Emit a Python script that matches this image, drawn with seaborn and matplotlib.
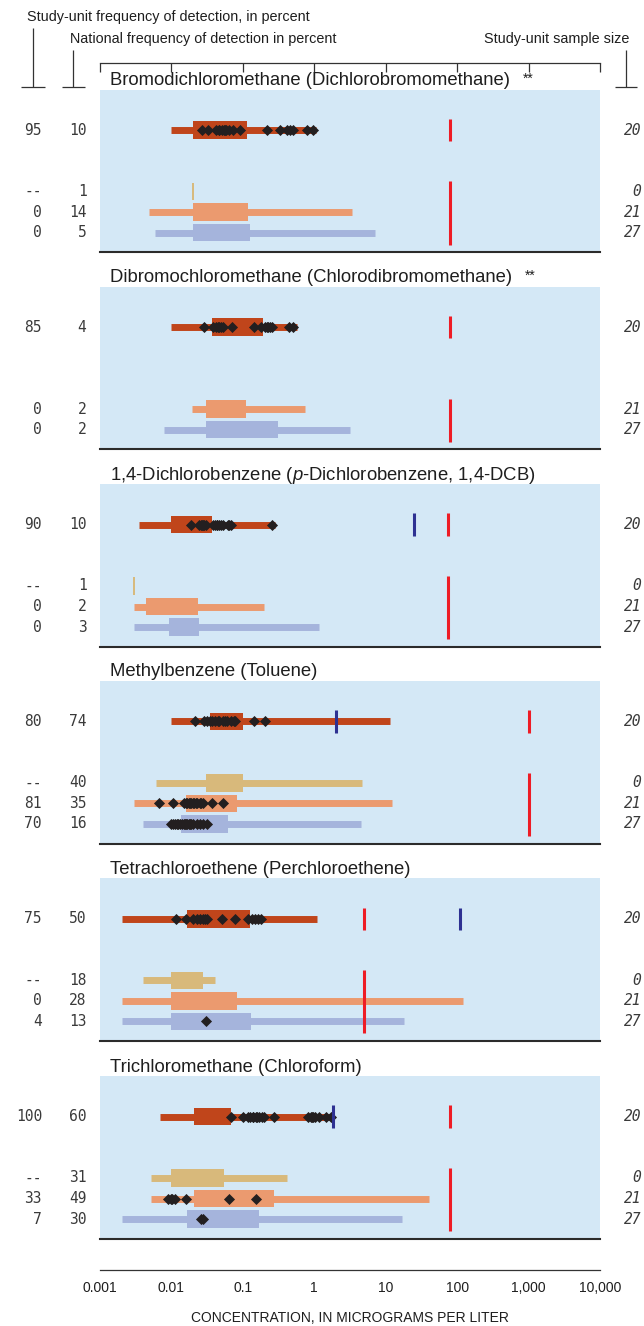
import matplotlib
matplotlib.use("Agg")
import matplotlib.pyplot as plt
from matplotlib.ticker import NullLocator, FixedLocator, FixedFormatter
from matplotlib.transforms import blended_transform_factory
import numpy as np
import pandas as pd
import seaborn as sns

# ---------------------------------------------------------------- data
compounds = [
    "Bromodichloromethane (Dichlorobromomethane)",
    "Dibromochloromethane (Chlorodibromomethane)",
    "1,4-Dichlorobenzene ($\\it{p}$-Dichlorobenzene, 1,4-DCB)",
    "Methylbenzene (Toluene)",
    "Tetrachloroethene (Perchloroethene)",
    "Trichloromethane (Chloroform)",
]
flags = ["**", "**", "", "", "", ""]

# (whisker low, box low, box high, whisker high), micrograms per liter
study_stats = [
    (0.01, 0.02, 0.114, 1.05),
    (0.01, 0.0375, 0.19, 0.57),
    (0.0035, 0.01, 0.0375, 0.28),
    (0.01, 0.0346, 0.102, 11.3),
    (0.002, 0.0163, 0.124, 1.09),
    (0.0069, 0.0204, 0.0678, 1.8),
]
tan_stats = [
    (0.02, 0.02, 0.02, 0.02),
    None,
    (0.003, 0.003, 0.003, 0.003),
    (0.0061, 0.0305, 0.102, 4.7),
    (0.004, 0.01, 0.0281, 0.041),
    (0.0051, 0.01, 0.054, 0.42),
]
salmon_stats = [
    (0.0049, 0.02, 0.119, 3.4),
    (0.0195, 0.03, 0.111, 0.73),
    (0.003, 0.0044, 0.0232, 0.2),
    (0.003, 0.0158, 0.083, 12.4),
    (0.002, 0.01, 0.0815, 120),
    (0.0051, 0.0204, 0.27, 41),
]
blue_stats = [
    (0.0059, 0.02, 0.127, 7.0),
    (0.0078, 0.03, 0.31, 3.2),
    (0.003, 0.0091, 0.0245, 1.16),
    (0.004, 0.0138, 0.0625, 4.55),
    (0.002, 0.01, 0.131, 18),
    (0.002, 0.0163, 0.171, 17),
]

# individual detections
study_detections = [
    [0.027, 0.033, 0.042, 0.047, 0.047, 0.051, 0.054, 0.056, 0.059, 0.065,
     0.073, 0.091, 0.218, 0.33, 0.41, 0.45, 0.50, 0.78, 0.95],
    [0.0285, 0.0388, 0.042, 0.045, 0.047, 0.050, 0.0535, 0.071, 0.141, 0.177,
     0.203, 0.216, 0.228, 0.241, 0.256, 0.443, 0.497],
    [0.0185, 0.0245, 0.026, 0.027, 0.0275, 0.029, 0.03, 0.0388, 0.041, 0.0435,
     0.044, 0.046, 0.0488, 0.052, 0.0614, 0.0649, 0.0687, 0.256],
    [0.0216, 0.0288, 0.0315, 0.0346, 0.0373, 0.0405, 0.045, 0.047, 0.0527,
     0.057, 0.06, 0.0684, 0.0741, 0.0785, 0.142, 0.207],
    [0.0115, 0.016, 0.0202, 0.0226, 0.0251, 0.0279, 0.0295, 0.0312, 0.0506,
     0.0776, 0.119, 0.133, 0.148, 0.164, 0.178],
    [0.0678, 0.101, 0.117, 0.127, 0.139, 0.14, 0.153, 0.16, 0.171, 0.185,
     0.196, 0.277, 0.818, 0.887, 0.92, 0.95, 1.03, 1.15, 1.45, 1.72],
]
salmon_detections = [
    [], [], [],
    [0.0067, 0.0106, 0.015, 0.016, 0.0163, 0.0178, 0.018, 0.019, 0.0199, 0.021,
     0.0224, 0.023, 0.025, 0.026, 0.0281, 0.0373, 0.0527],
    [],
    [0.009, 0.0098, 0.0103, 0.0112, 0.0158, 0.0649, 0.153],
]
blue_detections = [
    [], [], [],
    [0.0098, 0.0105, 0.0112, 0.0118, 0.0125, 0.0132, 0.0139, 0.0148, 0.0155,
     0.016, 0.0167, 0.0175, 0.0182, 0.019, 0.0202, 0.0226, 0.0251, 0.0279, 0.0312],
    [0.03],
    [0.0256, 0.0281],
]

# drinking-water benchmarks
red_benchmark = [80, 80, 75, 1000, 5, 80]
blue_benchmark = [None, None, 25, 2, 110, 1.8]

# frequency-of-detection labels (study-unit, national)
study_row_freq = [("95", "10"), ("85", "4"), ("90", "10"), ("80", "74"), ("75", "50"), ("100", "60")]
tan_row_freq = [("--", "1"), None, ("--", "1"), ("--", "40"), ("--", "18"), ("--", "31")]
salmon_row_freq = [("0", "14"), ("0", "2"), ("0", "2"), ("81", "35"), ("0", "28"), ("33", "49")]
blue_row_freq = [("0", "5"), ("0", "2"), ("0", "3"), ("70", "16"), ("4", "13"), ("7", "30")]
sample_sizes = ["20", "0", "21", "27"]

tick_values = [0.001, 0.01, 0.1, 1, 10, 100, 1000, 10000]
tick_labels = ["0.001", "0.01", "0.1", "1", "10", "100", "1,000", "10,000"]

# ---------------------------------------------------------------- style
sns.set_theme(style="white")
plt.rcParams["font.family"] = ["Liberation Sans", "DejaVu Sans"]
plt.rcParams["mathtext.fontset"] = "custom"
plt.rcParams["mathtext.rm"] = "Liberation Sans"
plt.rcParams["mathtext.it"] = "Liberation Sans:italic"

BG = "#d4e8f6"
C_STUDY = "#c0451b"
C_TAN = "#d8b97b"
C_SALMON = "#eb9a6f"
C_BLUE = "#a5b4dc"
C_RED = "#ee1c25"
C_NAVY = "#2e3192"
C_DOT = "#231f20"
C_TEXT = "#1e1e1e"
C_NUM = "#3a3a3a"

W, H = 644, 1326
fig = plt.figure(figsize=(W / 100, H / 100), dpi=100)


def rect(x0, y0, x1, y1):
    return [x0 / W, 1 - y1 / H, (x1 - x0) / W, (y1 - y0) / H]


overlay = fig.add_axes([0, 0, 1, 1])
overlay.set_xlim(0, W)
overlay.set_ylim(H, 0)
overlay.axis("off")

# column headers and brackets
hdr = dict(fontsize=10.4, color=C_TEXT, va="center", transform=overlay.transData)
fig.text(27, 17, "Study-unit frequency of detection, in percent", ha="left", **hdr)
fig.text(70, 39, "National frequency of detection in percent", ha="left", **hdr)
fig.text(629, 39, "Study-unit sample size", ha="right", **hdr)
for xv, ytop, x0, x1 in [(33, 28, 21, 45), (73.5, 50, 62, 85), (626, 50, 615, 637)]:
    overlay.plot([xv, xv], [ytop, 87], color="#333333", lw=0.9, solid_capstyle="butt")
    overlay.plot([x0, x1], [87, 87], color="#333333", lw=0.9, solid_capstyle="butt")

# top scale bar
top_ax = fig.add_axes(rect(100, 63, 600, 72))
top_ax.set_xscale("log")
top_ax.set_xlim(1e-3, 1e4)
top_ax.patch.set_visible(False)
for s in ["bottom", "left", "right"]:
    top_ax.spines[s].set_visible(False)
top_ax.spines["top"].set_color("#333333")
top_ax.spines["top"].set_linewidth(0.9)
top_ax.xaxis.set_major_locator(FixedLocator(tick_values))
top_ax.xaxis.set_minor_locator(NullLocator())
top_ax.xaxis.set_ticks_position("top")
top_ax.tick_params(axis="x", direction="in", length=6.5, width=0.9, color="#333333",
                   labeltop=False, labelbottom=False)
top_ax.set_yticks([])

PANEL_TOPS = [89.7, 286.7, 484, 681, 878.3, 1076]
PANEL_H = 162.5
ROW_PX = 20.5
STUDY_OFF = 40.5
ROW_Y = [0, 3, 4, 5]

num_font = dict(family="DejaVu Sans Mono", fontsize=10.5, color=C_NUM, va="center")

rows_spec = [
    (study_stats, study_row_freq, C_STUDY, study_detections),
    (tan_stats, tan_row_freq, C_TAN, None),
    (salmon_stats, salmon_row_freq, C_SALMON, salmon_detections),
    (blue_stats, blue_row_freq, C_BLUE, blue_detections),
]

renderer = fig.canvas.get_renderer()

for i, name in enumerate(compounds):
    top = PANEL_TOPS[i]
    ax = fig.add_axes(rect(100, top, 600, top + PANEL_H))
    ax.set_xscale("log")
    ax.set_xlim(1e-3, 1e4)
    ax.set_ylim((PANEL_H - STUDY_OFF) / ROW_PX, -STUDY_OFF / ROW_PX)
    ax.set_facecolor(BG)
    for s in ["top", "left", "right"]:
        ax.spines[s].set_visible(False)
    ax.spines["bottom"].set_color("#2b2b2b")
    ax.spines["bottom"].set_linewidth(1.5)
    ax.xaxis.set_major_locator(NullLocator())
    ax.xaxis.set_minor_locator(NullLocator())
    ax.set_yticks([])

    tr = blended_transform_factory(overlay.transData, ax.transData)
    present = []
    for (stats_list, freq_list, color, det_list), y, n in zip(rows_spec, ROW_Y, sample_sizes):
        stats = stats_list[i]
        if stats is None:
            continue
        present.append(y)
        lo, q1, q3, hi = stats
        if lo == hi:
            ax.vlines(lo, y - 0.42, y + 0.42, color=color, lw=1.4, zorder=2)
        else:
            ax.hlines(y, lo, hi, color=color, lw=5.0, capstyle="butt", zorder=2)
            ax.barh(y, q3 - q1, left=q1, height=0.85, color=color, lw=0, zorder=3)
        if det_list is not None and det_list[i]:
            d = pd.DataFrame({"value": det_list[i], "row": y})
            sns.scatterplot(data=d, x="value", y="row", ax=ax, marker="D", s=32,
                            color=C_DOT, linewidth=0, legend=False, zorder=4)
        sf, nf = freq_list[i]
        fig.text(42, y, sf, ha="right", transform=tr, **num_font)
        fig.text(86.5, y, nf, ha="right", transform=tr, **num_font)
        fig.text(641, y, n, ha="right", style="italic", transform=tr, **num_font)

    ax.set_xlabel("")
    ax.set_ylabel("")
    ax.set_ylim((PANEL_H - STUDY_OFF) / ROW_PX, -STUDY_OFF / ROW_PX)

    # benchmark lines
    ax.vlines(red_benchmark[i], -0.55, 0.55, color=C_RED, lw=2.2, zorder=5)
    ax.vlines(red_benchmark[i], present[1] - 0.5, 5.58, color=C_RED, lw=2.2, zorder=5)
    if blue_benchmark[i] is not None:
        ax.vlines(blue_benchmark[i], -0.55, 0.55, color=C_NAVY, lw=2.2, zorder=5)

    t = fig.text(110, top - 9, name, ha="left", va="center", fontsize=13.3,
                 color=C_TEXT, transform=overlay.transData)
    if flags[i]:
        bb = t.get_window_extent(renderer)
        xs = overlay.transData.inverted().transform((bb.x1, 0))[0]
        fig.text(xs + 13, top - 11, flags[i], ha="left", va="center", fontsize=10,
                 color=C_TEXT, transform=overlay.transData)

# bottom scale
bot_ax = fig.add_axes(rect(100, 1260.5, 600, 1269.5))
bot_ax.set_xscale("log")
bot_ax.set_xlim(1e-3, 1e4)
bot_ax.patch.set_visible(False)
for s in ["top", "left", "right"]:
    bot_ax.spines[s].set_visible(False)
bot_ax.spines["bottom"].set_color("#333333")
bot_ax.spines["bottom"].set_linewidth(0.9)
bot_ax.xaxis.set_major_locator(FixedLocator(tick_values))
bot_ax.xaxis.set_major_formatter(FixedFormatter(tick_labels))
bot_ax.xaxis.set_minor_locator(NullLocator())
bot_ax.tick_params(axis="x", direction="in", length=6.3, width=0.9, color="#333333",
                   labelsize=10, labelcolor=C_TEXT, pad=8)
bot_ax.set_yticks([])
fig.text(350, 1318, "CONCENTRATION, IN MICROGRAMS PER LITER", ha="center", va="center",
         fontsize=10, color=C_TEXT, transform=overlay.transData)

fig.savefig("out.png", dpi=100)
